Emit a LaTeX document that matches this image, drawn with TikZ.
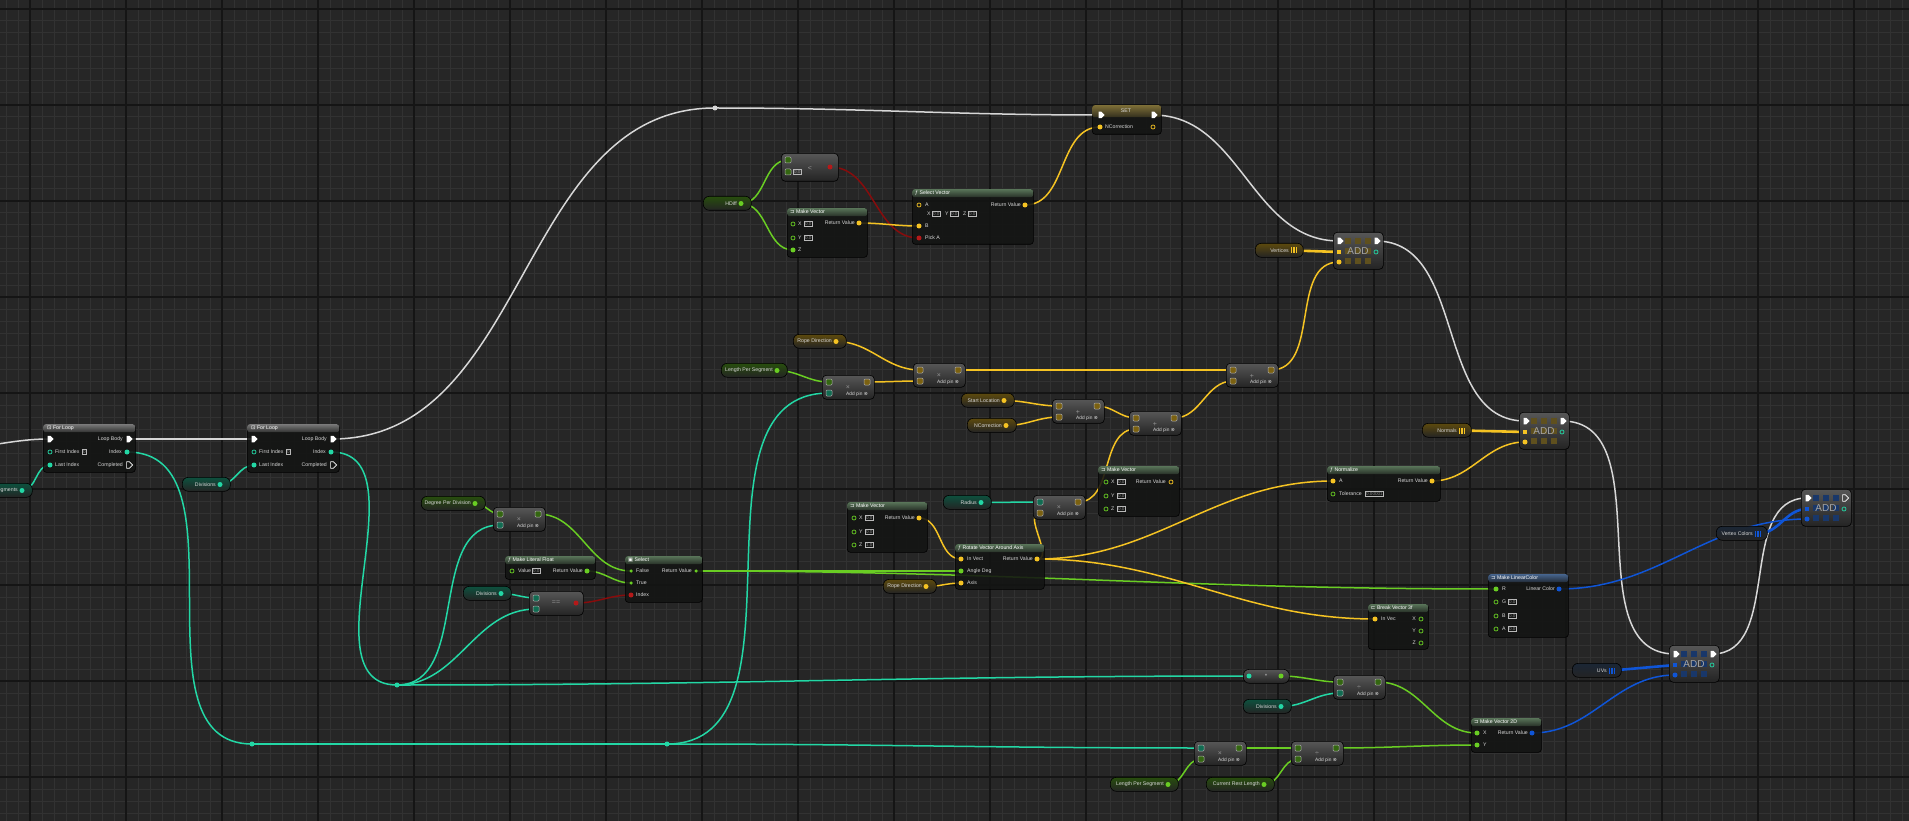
\documentclass[tikz,border=0pt]{standalone}
\usepackage{fontspec}
\setmainfont{Liberation Sans}
\newfontfamily\symf{DejaVu Sans}
\usetikzlibrary{shapes.symbols}

\definecolor{bgc}{RGB}{38,38,38}
\definecolor{gridmin}{RGB}{50,50,50}
\definecolor{gridmaj}{RGB}{21,21,21}
\definecolor{bodyc}{RGB}{19,20,19}
\definecolor{execc}{RGB}{215,215,215}
\definecolor{fltc}{RGB}{105,205,35}
\definecolor{intc}{RGB}{35,215,165}
\definecolor{vecc}{RGB}{245,195,35}
\definecolor{boolc}{RGB}{135,12,12}
\definecolor{boolp}{RGB}{180,25,25}
\definecolor{linc}{RGB}{15,85,215}
\definecolor{hgreen}{RGB}{88,115,88}
\definecolor{hblue}{RGB}{70,100,140}
\definecolor{hgray}{RGB}{120,120,120}
\definecolor{setc}{RGB}{125,110,55}
\definecolor{addy}{RGB}{95,80,30}
\definecolor{addb}{RGB}{25,55,105}
\definecolor{txtc}{RGB}{215,215,215}

\pgfdeclarelayer{back}
\pgfdeclarelayer{wires}
\pgfsetlayers{back,wires,main}

\tikzset{
  fbody/.style={anchor=north west, inner sep=0pt, rounded corners=3pt, draw=black, line width=0.6pt, fill=bodyc, fill opacity=0.88},
  fhead/.style={anchor=north west, inner sep=0pt, minimum height=8pt, rounded corners=2.5pt, top color=#1, bottom color=#1!30!bodyc},
  ftitle/.style={anchor=west, inner sep=0pt, text=white, font=\fontsize{5.2}{6}\selectfont},
  cbody/.style={anchor=north west, inner sep=0pt, rounded corners=4pt, draw=black, line width=0.6pt, top color=black!66, bottom color=black!86},
  pill/.style={anchor=north west, inner sep=0pt, minimum height=14pt, rounded corners=6pt, draw=black, line width=0.6pt, top color=#1!38!black, bottom color=black!86},
  lbl/.style={inner sep=0pt, text=txtc, font=\fontsize{5.2}{6}\selectfont},
  lbll/.style={lbl, anchor=west},
  lblr/.style={lbl, anchor=east},
  valbox/.style={anchor=west, draw=gray!55, line width=0.4pt, inner sep=0.9pt, text=gray!90, font=\fontsize{4.6}{5}\selectfont},
  sym/.style={inner sep=0pt, text=gray!85, font=\fontsize{7}{7}\selectfont},
  addpin/.style={lbl, font=\fontsize{4.8}{5}\selectfont},
  dpin/.style={circle, inner sep=0pt, minimum size=5pt, fill=#1},
  hpin/.style={circle, inner sep=0pt, minimum size=4pt, draw=#1, line width=0.7pt},
  sqpin/.style={rectangle, rounded corners=1pt, inner sep=0pt, minimum size=6pt, draw=gray!65, line width=0.5pt, fill=#1!50!black},
  expin/.style={signal, signal to=east, inner sep=0pt, minimum width=6pt, minimum height=6.5pt, fill=white},
  hexpin/.style={signal, signal to=east, inner sep=0pt, minimum width=6pt, minimum height=6.5pt, draw=white, line width=0.6pt},
  arr/.style={inner sep=0pt, minimum width=6pt, minimum height=6pt,
    path picture={\foreach \d in {0,2.3,4.6} \fill[#1] ([xshift=\d pt]path picture bounding box.north west) rectangle ++(1.3,6);}},
  reroute/.style={circle, inner sep=0pt, minimum size=5pt, fill=#1},
  wire/.style={line width=1.5pt, line cap=round, draw=#1},
  fat/.style={line width=2.6pt, draw=#1},
}

% function node: name, x, y, width, height, header colour, title
\newcommand{\bpfunc}[7]{%
  \node[fbody, minimum width=#4pt, minimum height=#5pt] (#1) at (#2,#3) {};
  \node[fhead=#6, minimum width=#4pt] at (#2,#3) {};
  \node[ftitle] at (#2+3,#3+4) {#7};
}
% compact math node: name, x, y, symbol, pin colours
\newcommand{\bpmath}[7]{%
  \node[cbody, minimum width=52pt, minimum height=24pt] (#1) at (#2,#3) {};
  \node[sym] at (#2+26,#3+13) {#4};
  \node[addpin] at (#2+35,#3+19.5) {Add pin {\symf ⊗}};
  \node[sqpin=#5] (#1-a) at (#2+7,#3+7) {};
  \node[sqpin=#6] (#1-b) at (#2+7,#3+18) {};
  \node[sqpin=#7] (#1-o) at (#2+45,#3+7) {};
}
% variable getter: name, x, y, width, glow, pin colour, text
\newcommand{\bpget}[7]{%
  \node[pill=#5, minimum width=#4pt] (#1) at (#2,#3) {};
  \node[lblr] at (#2+#4-14,#3+7.5) {#7};
  \node[dpin=#6] (#1-o) at (#2+#4-10,#3+7.5) {};
}
% array getter: name, x, y, width, glow, icon colour, text
\newcommand{\bparr}[7]{%
  \node[pill=#5, minimum width=#4pt] (#1) at (#2,#3) {};
  \node[lblr] at (#2+#4-14,#3+7.5) {#7};
  \node[arr=#6] (#1-o) at (#2+#4-9,#3+7.5) {};
}
% array ADD node: name, x, y, square colour, pin colour, exec out style
\newcommand{\bpadd}[6]{%
  \node[cbody, minimum width=50pt, minimum height=37pt] (#1) at (#2,#3) {};
  \foreach \i in {12,22,32} \foreach \j in {6,16,26}
    \fill[#4] (#2+\i,#3+\j) rectangle ++(6,6);
  \node[inner sep=0pt, text=gray!70, font=\fontsize{10}{10}\selectfont] at (#2+25,#3+19) {ADD};
  \node[expin] (#1-in) at (#2+6,#3+9) {};
  \node[#6] (#1-out) at (#2+43,#3+9) {};
  \node[inner sep=0pt, minimum size=4.5pt, fill=#5] (#1-arr) at (#2+6,#3+20) {};
  \node[dpin=#5] (#1-item) at (#2+6,#3+30) {};
  \node[hpin=intc] (#1-ret) at (#2+43,#3+20) {};
}
\newcommand{\bpwire}[3]{\draw[wire=#1] (#2.center) to[out=0,in=180] (#3.center);}

\begin{document}
\begin{tikzpicture}[x=1pt, y=-1pt]
  \useasboundingbox (0,0) rectangle (1909,821);

  % 1. Grid
  \begin{pgfonlayer}{back}
    \fill[bgc] (0,0) rectangle (1909,821);
    \foreach \x in {6,18,...,1909} \draw[gridmin, line width=1pt] (\x,0) -- (\x,821);
    \foreach \y in {9,21,...,821} \draw[gridmin, line width=1pt] (0,\y) -- (1909,\y);
    \foreach \x in {30,126,...,1909} \draw[gridmaj, line width=2pt] (\x,0) -- (\x,821);
    \foreach \y in {9,105,...,821} \draw[gridmaj, line width=2pt] (0,\y) -- (1909,\y);
  \end{pgfonlayer}

  % 2. For Loop nodes
  \foreach \n/\x in {loopA/43, loopB/247} {
    \node[fbody, minimum width=92pt, minimum height=48pt] (\n) at (\x,424) {};
    \node[fhead=hgray, minimum width=92pt] at (\x,424) {};
    \node[ftitle] at (\x+4,428) {{\symf ⊡} For Loop};
    \node[expin] (\n-in) at (\x+6,439) {};
    \node[expin] (\n-body) at (\x+85,439) {};
    \node[lblr] at (\x+80,439) {Loop Body};
    \node[hpin=intc] (\n-first) at (\x+7,452) {};
    \node[lbll] at (\x+12,452) {First Index};
    \node[valbox] at (\x+39,452) {0};
    \node[dpin=intc] (\n-index) at (\x+84,452) {};
    \node[lblr] at (\x+79,452) {Index};
    \node[dpin=intc] (\n-last) at (\x+7,465) {};
    \node[lbll] at (\x+12,465) {Last Index};
    \node[hexpin] (\n-done) at (\x+85,465) {};
    \node[lblr] at (\x+80,465) {Completed};
  }

  % 3. Variables
  \bpget{segs}{-22}{483}{54}{intc}{intc}{Segments}
  \bpget{divA}{182}{477}{48}{intc}{intc}{Divisions}
  \bpget{hdiff}{703}{196}{48}{fltc}{fltc}{HDiff}
  \bparr{verts}{1255}{243}{48}{vecc}{vecc}{Vertices}
  \bpget{ropeA}{793}{334}{53}{vecc}{vecc}{Rope Direction}
  \bpget{lenA}{721}{363}{66}{fltc}{fltc}{Length Per Segment}
  \bpget{startloc}{961}{393}{53}{vecc}{vecc}{Start Location}
  \bpget{ncorr}{967}{418}{49}{vecc}{vecc}{NCorrection}
  \bparr{norms}{1422}{423}{49}{vecc}{vecc}{Normals}
  \bpget{degdiv}{421}{496}{64}{fltc}{fltc}{Degree Per Division}
  \bpget{radius}{943}{495}{48}{intc}{intc}{Radius}
  \bpget{divB}{463}{586}{48}{intc}{intc}{Divisions}
  \bpget{ropeB}{883}{579}{53}{vecc}{vecc}{Rope Direction}
  \bparr{vcols}{1716}{526}{51}{hblue}{linc}{Vertex Colors}
  \bparr{uvs}{1572}{663}{49}{hblue}{linc}{UVs}
  \bpget{divC}{1243}{699}{48}{intc}{intc}{Divisions}
  \bpget{lenB}{1110}{777}{68}{fltc}{fltc}{Length Per Segment}
  \bpget{currest}{1206}{777}{68}{fltc}{fltc}{Current Rest Length}

  % 4. Function nodes
  \bpfunc{mvA}{787}{208}{80}{49}{hgreen}{{\symf ⊐} Make Vector}
  \node[hpin=fltc] (mvA-x) at (793,224) {}; \node[lbll] at (798,224) {X}; \node[valbox] at (804,224) {0.0};
  \node[hpin=fltc] (mvA-y) at (793,238) {}; \node[lbll] at (798,238) {Y}; \node[valbox] at (804,238) {0.0};
  \node[dpin=fltc] (mvA-z) at (793,250) {}; \node[lbll] at (798,250) {Z};
  \node[dpin=vecc] (mvA-o) at (859,223) {}; \node[lblr] at (855,223) {Return Value};

  \bpfunc{selv}{912}{189}{121}{55}{hgreen}{ƒ Select Vector}
  \node[hpin=vecc] (selv-a) at (919,205) {}; \node[lbll] at (925,205) {A};
  \node[lbll] at (927,214) {X}; \node[valbox] at (932,214) {0.0};
  \node[lbll] at (945,214) {Y}; \node[valbox] at (950,214) {0.0};
  \node[lbll] at (963,214) {Z}; \node[valbox] at (968,214) {0.0};
  \node[dpin=vecc] (selv-b) at (919,226) {}; \node[lbll] at (925,226) {B};
  \node[dpin=boolp] (selv-pick) at (919,238) {}; \node[lbll] at (925,238) {Pick A};
  \node[dpin=vecc] (selv-o) at (1025,205) {}; \node[lblr] at (1021,205) {Return Value};

  \bpfunc{mvB}{1098}{466}{81}{50}{hgreen}{{\symf ⊐} Make Vector}
  \node[hpin=fltc] (mvB-x) at (1106,482) {}; \node[lbll] at (1111,482) {X}; \node[valbox] at (1117,482) {0.0};
  \node[hpin=fltc] (mvB-y) at (1106,496) {}; \node[lbll] at (1111,496) {Y}; \node[valbox] at (1117,496) {0.0};
  \node[hpin=fltc] (mvB-z) at (1106,509) {}; \node[lbll] at (1111,509) {Z}; \node[valbox] at (1117,509) {0.0};
  \node[hpin=vecc] (mvB-o) at (1171,482) {}; \node[lblr] at (1166,482) {Return Value};

  \bpfunc{norm}{1327}{466}{113}{35}{hgreen}{ƒ Normalize}
  \node[dpin=vecc] (norm-a) at (1333,481) {}; \node[lbll] at (1339,481) {A};
  \node[hpin=fltc] (norm-tol) at (1333,494) {}; \node[lbll] at (1339,494) {Tolerance};
  \node[valbox] at (1365,494) {0.00001};
  \node[dpin=vecc] (norm-o) at (1432,481) {}; \node[lblr] at (1428,481) {Return Value};

  \bpfunc{mvC}{847}{502}{80}{50}{hgreen}{{\symf ⊐} Make Vector}
  \node[hpin=fltc] (mvC-x) at (854,518) {}; \node[lbll] at (859,518) {X}; \node[valbox] at (865,518) {0.0};
  \node[hpin=fltc] (mvC-y) at (854,532) {}; \node[lbll] at (859,532) {Y}; \node[valbox] at (865,532) {0.0};
  \node[hpin=fltc] (mvC-z) at (854,545) {}; \node[lbll] at (859,545) {Z}; \node[valbox] at (865,545) {1.0};
  \node[dpin=vecc] (mvC-o) at (919,518) {}; \node[lblr] at (915,518) {Return Value};

  \bpfunc{rot}{955}{544}{89}{45}{hgreen}{ƒ Rotate Vector Around Axis}
  \node[dpin=vecc] (rot-in) at (961,559) {}; \node[lbll] at (967,559) {In Vect};
  \node[dpin=fltc] (rot-ang) at (961,571) {}; \node[lbll] at (967,571) {Angle Deg};
  \node[dpin=vecc] (rot-axis) at (961,583) {}; \node[lbll] at (967,583) {Axis};
  \node[dpin=vecc] (rot-o) at (1037,559) {}; \node[lblr] at (1033,559) {Return Value};

  \bpfunc{lit}{505}{556}{90}{23}{hgreen}{ƒ Make Literal Float}
  \node[hpin=fltc] (lit-v) at (512,571) {}; \node[lbll] at (518,571) {Value}; \node[valbox] at (532,571) {0.0};
  \node[dpin=fltc] (lit-o) at (587,571) {}; \node[lblr] at (583,571) {Return Value};

  \bpfunc{sel}{625}{556}{77}{46}{hgreen}{{\symf ▣} Select}
  \node[dpin=fltc, minimum size=3.5pt] (sel-f) at (631,571) {}; \node[lbll] at (636,571) {False};
  \node[dpin=fltc, minimum size=3.5pt] (sel-t) at (631,583) {}; \node[lbll] at (636,583) {True};
  \node[dpin=boolp] (sel-idx) at (631,595) {}; \node[lbll] at (636,595) {Index};
  \node[dpin=fltc, minimum size=3.5pt] (sel-o) at (696,571) {}; \node[lblr] at (692,571) {Return Value};

  \bpfunc{mlc}{1488}{574}{80}{63}{hblue}{{\symf ⊐} Make LinearColor}
  \node[dpin=fltc] (mlc-r) at (1496,589) {}; \node[lbll] at (1502,589) {R};
  \node[hpin=fltc] (mlc-g) at (1496,602) {}; \node[lbll] at (1502,602) {G}; \node[valbox] at (1508,602) {0.0};
  \node[hpin=fltc] (mlc-b) at (1496,616) {}; \node[lbll] at (1502,616) {B}; \node[valbox] at (1508,616) {0.0};
  \node[hpin=fltc] (mlc-a) at (1496,629) {}; \node[lbll] at (1502,629) {A}; \node[valbox] at (1508,629) {0.0};
  \node[dpin=linc] (mlc-o) at (1559,589) {}; \node[lblr] at (1555,589) {Linear Color};

  \bpfunc{brk}{1368}{604}{60}{45}{hgreen}{{\symf ⊏} Break Vector 3f}
  \node[dpin=vecc] (brk-in) at (1375,619) {}; \node[lbll] at (1381,619) {In Vec};
  \node[hpin=fltc] (brk-x) at (1421,619) {}; \node[lblr] at (1416,619) {X};
  \node[hpin=fltc] (brk-y) at (1421,631) {}; \node[lblr] at (1416,631) {Y};
  \node[hpin=fltc] (brk-z) at (1421,643) {}; \node[lblr] at (1416,643) {Z};

  \bpfunc{mvtwo}{1471}{718}{70}{34}{hgreen}{{\symf ⊐} Make Vector 2D}
  \node[dpin=fltc] (mvtwo-x) at (1477,733) {}; \node[lbll] at (1483,733) {X};
  \node[dpin=fltc] (mvtwo-y) at (1477,745) {}; \node[lbll] at (1483,745) {Y};
  \node[dpin=linc] (mvtwo-o) at (1532,733) {}; \node[lblr] at (1528,733) {Return Value};

  % 5. SET node
  \node[fbody, minimum width=69pt, minimum height=29pt] (set) at (1092,105) {};
  \node[fhead=setc, minimum width=69pt, minimum height=12pt] at (1092,105) {};
  \node[ftitle, anchor=center, text=txtc] at (1126,111) {SET};
  \node[expin] (set-in) at (1100,115) {};
  \node[expin] (set-out) at (1153,115) {};
  \node[dpin=vecc] (set-n) at (1100,127) {}; \node[lbll] at (1105,127) {NCorrection};
  \node[hpin=vecc] (set-o) at (1153,127) {};

  % 6. Math nodes
  \bpmath{mulA}{822}{375}{×}{fltc}{intc}{vecc}
  \bpmath{mulB}{913}{363}{×}{vecc}{vecc}{vecc}
  \bpmath{addC}{1226}{363}{+}{vecc}{vecc}{vecc}
  \bpmath{addD}{1052}{399}{+}{vecc}{vecc}{vecc}
  \bpmath{addE}{1129}{411}{+}{vecc}{vecc}{vecc}
  \bpmath{mulF}{493}{507}{×}{fltc}{intc}{fltc}
  \bpmath{mulR}{1033}{495}{×}{intc}{vecc}{vecc}
  \bpmath{divT}{1333}{675}{÷}{fltc}{intc}{fltc}
  \bpmath{mulL}{1194}{741}{×}{intc}{fltc}{fltc}
  \bpmath{divL}{1291}{741}{÷}{fltc}{fltc}{fltc}

  \node[cbody, minimum width=57pt, minimum height=28pt] (less) at (781,153) {};
  \node[sqpin=fltc] (less-a) at (788,160) {};
  \node[sqpin=fltc] (less-b) at (788,172) {};
  \node[valbox] at (793,172) {0.0};
  \node[sym] at (810,168) {<};
  \node[dpin=boolp] (less-o) at (830,167) {};

  \node[cbody, minimum width=54pt, minimum height=24pt] (eq) at (529,591) {};
  \node[sym] at (556,603) {==};
  \node[sqpin=intc] (eq-a) at (536,598) {};
  \node[sqpin=intc] (eq-b) at (536,609) {};
  \node[dpin=boolp] (eq-o) at (576,603) {};

  \node[cbody, minimum width=46pt, minimum height=14pt, rounded corners=6pt] (conv) at (1243,669) {};
  \node[sym] at (1266,675.5) {•};
  \node[dpin=intc] (conv-a) at (1249,676) {};
  \node[dpin=fltc] (conv-o) at (1281,676) {};

  % 7. Array ADD nodes
  \bpadd{addV}{1333}{232}{addy}{vecc}{expin}
  \bpadd{addN}{1519}{412}{addy}{vecc}{expin}
  \bpadd{addVC}{1801}{489}{addb}{linc}{hexpin}
  \bpadd{addUV}{1669}{645}{addb}{linc}{expin}

  % 8. Reroute points
  \node[reroute=execc] (rrX) at (715,108) {};
  \node[reroute=intc] (rrA) at (252,744) {};
  \node[reroute=intc] (rrB) at (667,744) {};
  \node[reroute=intc] (rrC) at (397,685) {};
  \coordinate (entry) at (-40,447);

  % 9. Wires
  \begin{pgfonlayer}{wires}
    % exec
    \bpwire{execc}{entry}{loopA-in}
    \bpwire{execc}{loopA-body}{loopB-in}
    \bpwire{execc}{loopB-body}{rrX}
    \bpwire{execc}{rrX}{set-in}
    \bpwire{execc}{set-out}{addV-in}
    \bpwire{execc}{addV-out}{addN-in}
    \bpwire{execc}{addN-out}{addUV-in}
    \bpwire{execc}{addUV-out}{addVC-in}
    % integers
    \bpwire{intc}{segs-o}{loopA-last}
    \bpwire{intc}{divA-o}{loopB-last}
    \bpwire{intc}{loopA-index}{rrA}
    \draw[wire=intc] (rrA.center) -- (rrB.center);
    \bpwire{intc}{rrB}{mulA-b}
    \bpwire{intc}{rrB}{mulL-a}
    \bpwire{intc}{loopB-index}{rrC}
    \bpwire{intc}{rrC}{mulF-b}
    \bpwire{intc}{rrC}{eq-b}
    \bpwire{intc}{rrC}{conv-a}
    \bpwire{intc}{divB-o}{eq-a}
    \bpwire{intc}{radius-o}{mulR-a}
    \bpwire{intc}{divC-o}{divT-b}
    % floats
    \bpwire{fltc}{hdiff-o}{less-a}
    \bpwire{fltc}{hdiff-o}{mvA-z}
    \bpwire{fltc}{lenA-o}{mulA-a}
    \bpwire{fltc}{degdiv-o}{mulF-a}
    \bpwire{fltc}{mulF-o}{sel-f}
    \bpwire{fltc}{lit-o}{sel-t}
    \bpwire{fltc}{sel-o}{rot-ang}
    \bpwire{fltc}{sel-o}{mlc-r}
    \bpwire{fltc}{conv-o}{divT-a}
    \bpwire{fltc}{divT-o}{mvtwo-x}
    \bpwire{fltc}{lenB-o}{mulL-b}
    \bpwire{fltc}{mulL-o}{divL-a}
    \bpwire{fltc}{currest-o}{divL-b}
    \bpwire{fltc}{divL-o}{mvtwo-y}
    % booleans
    \bpwire{boolc}{less-o}{selv-pick}
    \bpwire{boolc}{eq-o}{sel-idx}
    % vectors
    \bpwire{vecc}{mvA-o}{selv-b}
    \bpwire{vecc}{selv-o}{set-n}
    \bpwire{vecc}{ropeA-o}{mulB-a}
    \bpwire{vecc}{mulA-o}{mulB-b}
    \bpwire{vecc}{mulB-o}{addC-a}
    \bpwire{vecc}{addE-o}{addC-b}
    \bpwire{vecc}{addC-o}{addV-item}
    \draw[fat=vecc] (verts-o.center) -- (addV-arr.center);
    \bpwire{vecc}{startloc-o}{addD-a}
    \bpwire{vecc}{ncorr-o}{addD-b}
    \bpwire{vecc}{addD-o}{addE-a}
    \bpwire{vecc}{mulR-o}{addE-b}
    \bpwire{vecc}{mvC-o}{rot-in}
    \bpwire{vecc}{rot-o}{mulR-b}
    \bpwire{vecc}{rot-o}{norm-a}
    \bpwire{vecc}{rot-o}{brk-in}
    \bpwire{vecc}{ropeB-o}{rot-axis}
    \bpwire{vecc}{norm-o}{addN-item}
    \draw[fat=vecc] (norms-o.center) -- (addN-arr.center);
    % colours and UVs
    \bpwire{linc}{mlc-o}{addVC-item}
    \draw[fat=linc] (vcols-o.center) to[out=0,in=180] (addVC-arr.center);
    \bpwire{linc}{mvtwo-o}{addUV-item}
    \draw[fat=linc] (uvs-o.center) -- (addUV-arr.center);
  \end{pgfonlayer}
\end{tikzpicture}
\end{document}
